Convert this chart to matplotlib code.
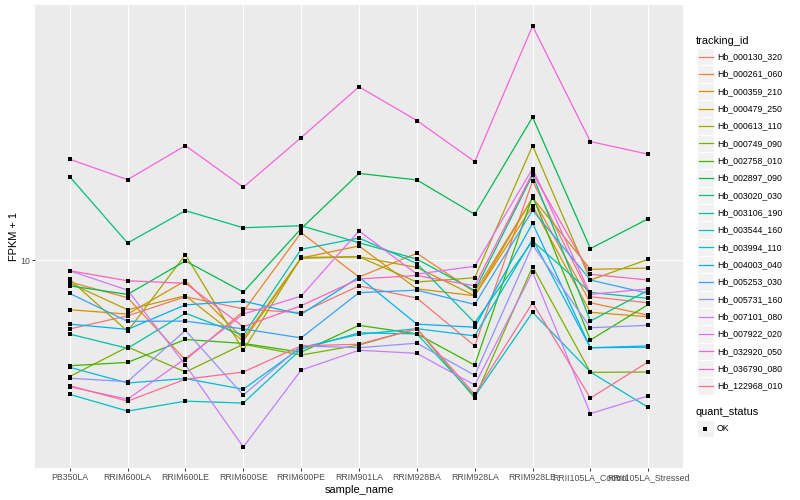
import matplotlib
matplotlib.use("Agg")
import matplotlib.pyplot as plt
from matplotlib.patches import Rectangle
from matplotlib.ticker import NullLocator
import numpy as np

plt.rcParams['font.family'] = ['Liberation Sans', 'DejaVu Sans']

samples = ["PB350LA", "RRIM600LA", "RRIM600LE", "RRIM600SE", "RRIM600PE",
           "RRIM901LA", "RRIM928BA", "RRIM928LA", "RRIM928LE",
           "RRII105LA_Control", "RRII105LA_Stressed"]

tracking_ids = ["Hb_000130_320", "Hb_000261_060", "Hb_000359_210", "Hb_000479_250",
                "Hb_000613_110", "Hb_000749_090", "Hb_002758_010", "Hb_002897_090",
                "Hb_003020_030", "Hb_003106_190", "Hb_003544_160", "Hb_003994_110",
                "Hb_004003_040", "Hb_005253_030", "Hb_005731_160", "Hb_007101_080",
                "Hb_007922_020", "Hb_032920_050", "Hb_036790_080", "Hb_122968_010"]

# FPKM + 1 per sample (same order as samples)
hb_000130_320 = [6.44, 7.00, 7.91, 7.32, 7.14, 8.48, 7.84, 5.78, 16.57, 7.91, 7.61]
hb_000261_060 = [8.69, 7.86, 5.28, 7.20, 11.91, 8.97, 10.44, 8.15, 14.87, 7.61, 7.03]
hb_000359_210 = [7.28, 7.08, 8.76, 6.05, 10.13, 10.94, 8.32, 7.96, 14.13, 7.16, 6.96]
hb_000479_250 = [8.63, 7.28, 7.96, 5.96, 10.11, 10.21, 9.54, 7.96, 14.87, 9.42, 9.50]
hb_000613_110 = [8.84, 6.34, 10.35, 5.62, 10.17, 10.21, 8.69, 8.93, 20.77, 8.80, 10.05]
hb_000749_090 = [4.75, 5.74, 4.89, 5.84, 5.45, 5.81, 6.45, 4.14, 9.58, 4.88, 4.89]
hb_002758_010 = [5.09, 5.20, 6.02, 5.87, 5.55, 6.59, 6.24, 5.11, 15.05, 6.00, 7.53]
hb_002897_090 = [8.48, 8.03, 9.94, 8.15, 12.22, 17.39, 16.68, 13.39, 24.91, 10.76, 13.02]
hb_003020_030 = [17.03, 11.15, 13.71, 12.29, 12.45, 11.17, 10.06, 8.23, 17.22, 6.77, 8.25]
hb_003106_190 = [6.23, 5.69, 7.12, 6.18, 10.71, 11.51, 9.78, 6.70, 11.29, 8.13, 7.83]
hb_003544_160 = [4.24, 3.81, 4.06, 4.01, 5.66, 6.28, 6.24, 4.19, 7.16, 4.89, 3.90]
hb_003994_110 = [5.04, 4.56, 4.69, 4.38, 5.72, 6.22, 6.45, 6.16, 11.42, 5.71, 5.78]
hb_004003_040 = [6.64, 6.42, 7.51, 7.69, 7.07, 8.97, 6.64, 6.51, 12.65, 5.71, 5.73]
hb_005253_030 = [8.08, 6.76, 6.77, 6.44, 6.08, 8.12, 8.25, 7.53, 13.74, 8.80, 8.08]
hb_005731_160 = [4.70, 4.60, 6.38, 4.22, 5.78, 5.71, 5.88, 4.79, 11.01, 6.49, 6.59]
hb_007101_080 = [9.34, 8.25, 5.12, 3.03, 4.95, 5.62, 5.51, 4.50, 9.26, 3.75, 4.20]
hb_007922_020 = [4.45, 4.11, 5.33, 7.08, 7.94, 12.04, 9.14, 9.61, 17.93, 8.03, 8.32]
hb_032920_050 = [19.04, 16.71, 20.77, 15.92, 21.86, 30.24, 24.38, 18.75, 44.58, 21.31, 19.66]
hb_036790_080 = [9.34, 8.76, 8.62, 6.53, 7.47, 8.86, 9.06, 8.48, 17.44, 9.13, 8.80]
hb_122968_010 = [4.48, 4.06, 4.67, 4.89, 5.78, 5.84, 6.45, 4.24, 7.61, 4.14, 5.22]

series = [hb_000130_320, hb_000261_060, hb_000359_210, hb_000479_250, hb_000613_110,
          hb_000749_090, hb_002758_010, hb_002897_090, hb_003020_030, hb_003106_190,
          hb_003544_160, hb_003994_110, hb_004003_040, hb_005253_030, hb_005731_160,
          hb_007101_080, hb_007922_020, hb_032920_050, hb_036790_080, hb_122968_010]

quant_status = ["OK"]

colors = ["#F8766D", "#EA8331", "#D89000", "#C09B00", "#A3A500", "#7CAE00", "#39B600",
          "#00BB4E", "#00BF7D", "#00C1A3", "#00BFC4", "#00BAE0", "#00B0F6", "#35A2FF",
          "#9590FF", "#C77CFF", "#E76BF3", "#FA62DB", "#FF62BC", "#FF6C91"]

W, H = 800, 500
fig = plt.figure(figsize=(8, 5), dpi=100)
fig.patch.set_facecolor("white")

pl, pr, pt, pb = 35, 683, 5, 468
ax = fig.add_axes([pl / W, 1 - pb / H, (pr - pl) / W, (pb - pt) / H])
ax.set_facecolor("#EBEBEB")
for s in ax.spines.values():
    s.set_visible(False)

x = np.arange(len(samples))
for vals, c in zip(series, colors):
    ax.plot(x, vals, color=c, lw=0.9, zorder=2, solid_capstyle="butt")
for vals in series:
    ax.plot(x, vals, linestyle="none", marker="s", markersize=2.7,
            markeredgewidth=0, color="black", zorder=3)

ax.set_yscale("log")
allv = np.log10(np.concatenate([np.asarray(v) for v in series]))
lo, hi = allv.min(), allv.max()
ex = 0.05 * (hi - lo)
ax.set_ylim(10 ** (lo - ex), 10 ** (hi + ex))
ax.set_xlim(-0.6, len(samples) - 1 + 0.6)

ax.set_yticks([10])
ax.set_yticklabels(["10"])
ax.yaxis.set_minor_locator(NullLocator())
ax.set_xticks(x)
ax.set_xticklabels(samples)
ax.grid(True, which="major", color="white", lw=0.8, zorder=0)
ax.set_axisbelow(True)
ax.tick_params(axis="both", which="major", direction="out", length=2.0, width=0.7,
               color="#333333", labelcolor="#4D4D4D", labelsize=6.3, pad=1.6)

fig.text(14 / W, 1 - 236.5 / H, "FPKM + 1", rotation=90, ha="center", va="center",
         fontsize=7.9, color="black")
fig.text((pl + pr) / 2 / W, 1 - 490 / H, "sample_name", ha="center", va="center",
         fontsize=7.9, color="black")

# legend (drawn in pixel coordinates on an overlay)
lg = fig.add_axes([0, 0, 1, 1])
lg.set_xlim(0, W)
lg.set_ylim(H, 0)
lg.axis("off")
lg.patch.set_alpha(0)

lg.text(696, 40.7, "tracking_id", ha="left", va="center", fontsize=7.9)
step = 17.33
y0 = 56.7
for i, (tid, c) in enumerate(zip(tracking_ids, colors)):
    yc = y0 + i * step
    lg.add_patch(Rectangle((696.5, yc - step / 2), 17, step, facecolor="#F2F2F2",
                           edgecolor="white", lw=0.8))
    lg.plot([698.5, 712.5], [yc, yc], color=c, lw=0.9)
    lg.text(717, yc, tid, ha="left", va="center", fontsize=6.3)

lg.text(696, 411.7, "quant_status", ha="left", va="center", fontsize=7.9)
yc = 428.5
lg.add_patch(Rectangle((696.5, yc - step / 2), 17, step, facecolor="#F2F2F2",
                       edgecolor="white", lw=0.8))
lg.plot([705], [yc], marker="s", markersize=2.7, markeredgewidth=0, color="black",
        linestyle="none")
lg.text(717, yc, quant_status[0], ha="left", va="center", fontsize=6.3)

fig.savefig("out.png", dpi=100, facecolor="white")
